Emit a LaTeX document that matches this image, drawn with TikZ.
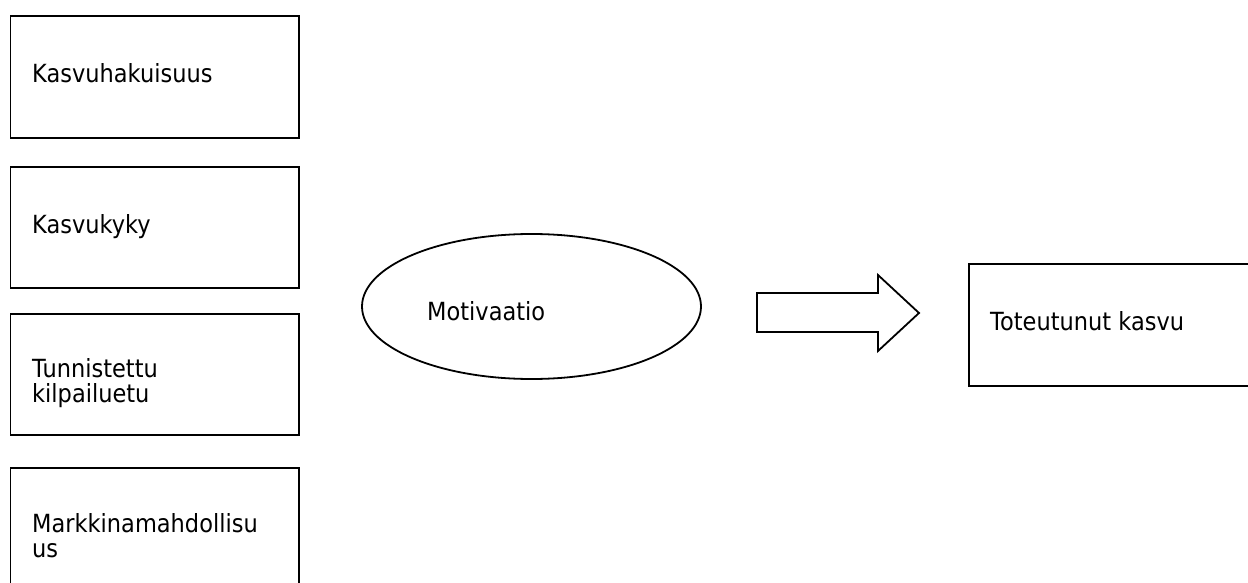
\documentclass[tikz,border=0pt]{standalone}
\usepackage{fontspec}
\setmainfont{DejaVu Sans}[FakeStretch=0.9]
\usetikzlibrary{shapes.geometric}
\begin{document}
\begin{tikzpicture}[x=1pt,y=-1pt,
  box/.style={draw=black, line width=1.8pt, fill=white, rectangle, inner sep=0pt, anchor=north west},
  oval/.style={draw=black, line width=1.8pt, ellipse, inner sep=0pt},
  lbl/.style={inner sep=0pt, anchor=base west, font=\fontsize{25}{25}\selectfont, text=black},
  blockarrow/.style={draw=black, line width=1.8pt, fill=white, line join=miter}]
  \useasboundingbox (0,0) rectangle (1248,583);
  \clip (0,0) rectangle (1248,583);
  \fill[white] (0,0) rectangle (1248,583);

  % factor boxes on the left
  \node[box, minimum width=288.5pt, minimum height=122pt] (b1) at (9.5,15) {};
  \node[box, minimum width=288.5pt, minimum height=121pt] (b2) at (9.5,166) {};
  \node[box, minimum width=288.5pt, minimum height=121pt] (b3) at (9.5,313) {};
  \node[box, minimum width=288.5pt, minimum height=140pt] (b4) at (9.5,467) {};

  \node[lbl] (t1) at (32,83) {Kasvuhakuisuus};
  \node[lbl] (t2) at (32,233) {Kasvukyky};
  \node[lbl] (t3a) at (32,377) {Tunnistettu};
  \node[lbl] (t3b) at (32,402) {kilpailuetu};
  \node[lbl] (t4a) at (32,532) {Markkinamahdollisu};
  \node[lbl] (t4b) at (32,557) {us};

  % motivation ellipse
  \node[oval, minimum width=339pt, minimum height=145pt] (m) at (531.5,306.5) {};
  \node[lbl] (tm) at (427,320) {Motivaatio};

  % block arrow
  \coordinate (a0) at (757,312.5);
  \draw[blockarrow] (a0) ++(0,-19.5) -- ++(121,0) -- ++(0,-18) -- (919,313)
    -- (878,351) -- ++(0,-19) -- ++(-121,0) -- cycle;

  % outcome box
  \node[box, minimum width=320pt, minimum height=122pt] (r) at (968,263) {};
  \node[lbl] (tr) at (990,330) {Toteutunut kasvu};
\end{tikzpicture}
\end{document}
